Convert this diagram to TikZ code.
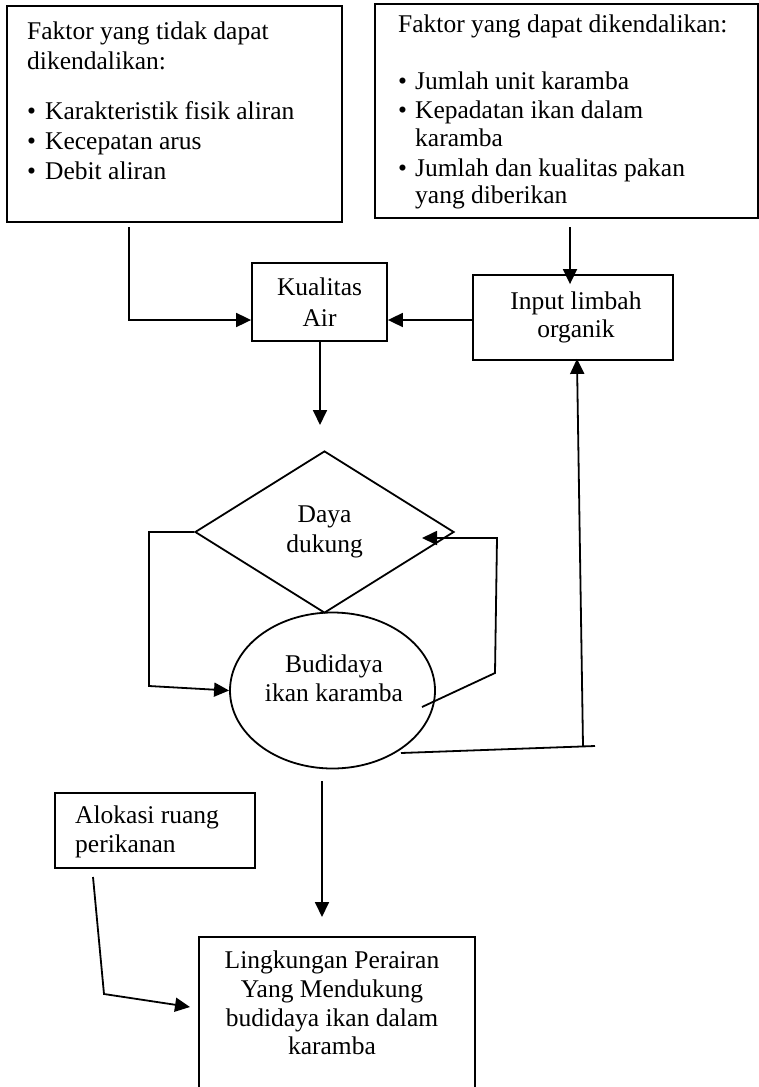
\documentclass[tikz,border=0pt]{standalone}
\usepackage{fontspec}
\setmainfont{Liberation Serif}
\usetikzlibrary{arrows.meta,shapes.geometric,calc}
\newcommand\mybul[1]{\makebox[#1][l]{\textbullet}}
\begin{document}
\begin{tikzpicture}[x=1pt,y=-1pt,
  box/.style={draw, line width=1.8pt, rectangle, inner sep=0pt},
  txt/.style={inner sep=0pt, font=\fontsize{25.5}{30}\selectfont},
  arr/.style={line width=1.8pt, -{Triangle[length=15pt,width=14pt]}},
  ln/.style={line width=1.8pt}]
\useasboundingbox (0,0) rectangle (759,1087);
\clip (0,0) rectangle (759,1087);

% top boxes
\node[box, anchor=north west, minimum width=335pt, minimum height=216pt] (A) at (6,5) {};
\node[txt, anchor=north west, align=left] (At) at (27,21.5)
  {Faktor yang tidak dapat\\dikendalikan:\\[20pt]
   \mybul{18pt}Karakteristik fisik aliran\\
   \mybul{18pt}Kecepatan arus\\
   \mybul{18pt}Debit aliran};

\node[box, anchor=north west, minimum width=383pt, minimum height=214pt] (B) at (374,3) {};
\node[txt, anchor=north west, align=left] (Bt) at (398,14.5)
  {Faktor yang dapat dikendalikan:\\[27pt]
   \mybul{17pt}Jumlah unit karamba\\[-1pt]
   \mybul{17pt}Kepadatan ikan dalam\\[-2pt]
   \hspace*{17pt}karamba\\[0pt]
   \mybul{17pt}Jumlah dan kualitas pakan\\[-3pt]
   \hspace*{17pt}yang diberikan};

% middle boxes
\node[box, txt, draw, line width=1.8pt, align=center, minimum width=135pt, minimum height=78pt] (K) at (319.5,302)
  {Kualitas\\[1pt]Air};
\node[box, txt, draw, line width=1.8pt, align=center, minimum width=200pt, minimum height=85pt] (I) at (573,317.5)
  {\hspace*{6pt}Input limbah\\[-2pt]\hspace*{6pt}organik};

% diamond and ellipse
\node[diamond, draw, line width=1.8pt, inner sep=0pt, minimum width=259pt, minimum height=162pt,
      txt, align=center] (D) at (324.5,532) {Daya\\dukung};
\node[ellipse, draw, line width=1.8pt, inner sep=0pt, minimum width=205pt, minimum height=156pt] (E) at (332.5,690.5) {};
\node[txt, align=center, baseline=0pt] (Et) at (334,678) {Budidaya\\[-1pt]ikan karamba};

% bottom boxes
\node[box, anchor=north west, minimum width=200pt, minimum height=75pt] (P) at (54,792) {};
\node[txt, anchor=north west, align=left] (Pt) at (75,806) {Alokasi ruang\\[-1pt]perikanan};

\node[box, anchor=north west, minimum width=276pt, minimum height=200pt] (L) at (198,936) {};
\node[txt, anchor=north, align=center] (Lt) at (332,951)
  {Lingkungan Perairan\\[-1pt]Yang Mendukung\\[-1pt]budidaya ikan dalam\\[-2pt]karamba};

% connectors
\coordinate (a1) at (129,227);
\coordinate (a2) at (129,320);
\draw[arr] (a1) -- (a2) -- (a2 -| K.west);
\draw[arr] (a2 -| I.west) -- (a2 -| K.east);

\coordinate (b1) at (570,227);
\draw[arr, shorten >=-10pt] (b1) -- (b1 |- I.north);

\coordinate (d0) at (320,425);
\draw[arr] (K.south -| d0) -- (d0);

\coordinate (l1) at (149,536);
\coordinate (l2) at (149,686);
\draw[arr] (D.west) -- (D.west -| l1) -- (l2) -- (E.west);

\coordinate (r1) at (422,707);
\coordinate (r2) at (495,673);
\coordinate (r3) at (497,538);
\draw[arr] (r1) -- (r2) -- (r3) -- (r3 -| r1);

\coordinate (f1) at (401,753);
\coordinate (f2) at (595,746);
\coordinate (f3) at (583,746);
\coordinate (f4) at (577,0);
\draw[ln] (f1) -- (f2);
\draw[arr, shorten >=-2pt] (f3) -- (I.south -| f4);

\coordinate (e0) at (322,781);
\coordinate (e1) at (322,917);
\draw[arr] (e0) -- (e1);

\coordinate (p1) at (93,877);
\coordinate (p2) at (104,994);
\coordinate (p3) at (190,1007);
\draw[arr] (p1) -- (p2) -- (p3);
\end{tikzpicture}
\end{document}
